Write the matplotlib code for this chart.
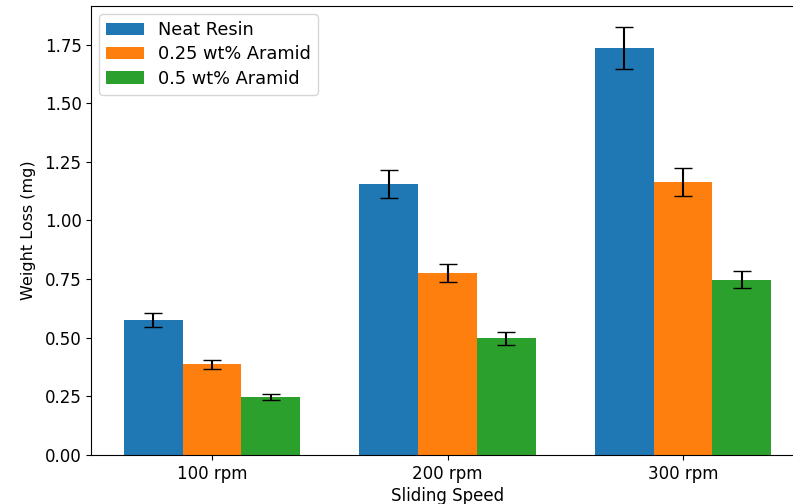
import numpy as np
import matplotlib
matplotlib.use('Agg')
import matplotlib.pyplot as plt

# weight loss per sliding speed, mean and error (mg)
speeds = ['100 rpm', '200 rpm', '300 rpm']
neat_resin = [0.575, 1.155, 1.735]
neat_resin_err = [0.030, 0.058, 0.088]
aramid_025 = [0.387, 0.776, 1.165]
aramid_025_err = [0.020, 0.040, 0.060]
aramid_05 = [0.248, 0.497, 0.748]
aramid_05_err = [0.012, 0.027, 0.036]

plt.rcParams['font.size'] = 12

fig = plt.figure(figsize=(7.93, 5.04), dpi=100)
ax = fig.add_axes([91.3 / 793, 49 / 504, 712.4 / 793, 449 / 504])

x = np.arange(len(speeds))
w = 0.25
ax.bar(x - w, neat_resin, w, yerr=neat_resin_err, capsize=6.5, label='Neat Resin')
ax.bar(x, aramid_025, w, yerr=aramid_025_err, capsize=6.5, label='0.25 wt% Aramid')
ax.bar(x + w, aramid_05, w, yerr=aramid_05_err, capsize=6.5, label='0.5 wt% Aramid')

ax.set_xticks(x)
ax.set_xticklabels(speeds)
ax.set_xlabel('Sliding Speed', labelpad=3)
ax.set_ylabel('Weight Loss (mg)', fontsize=11.5, labelpad=6)
ax.legend(loc='upper left', fontsize=12.8, borderaxespad=0.45,
          handlelength=2.1, labelspacing=0.35)

fig.savefig('out.png', dpi=100)
